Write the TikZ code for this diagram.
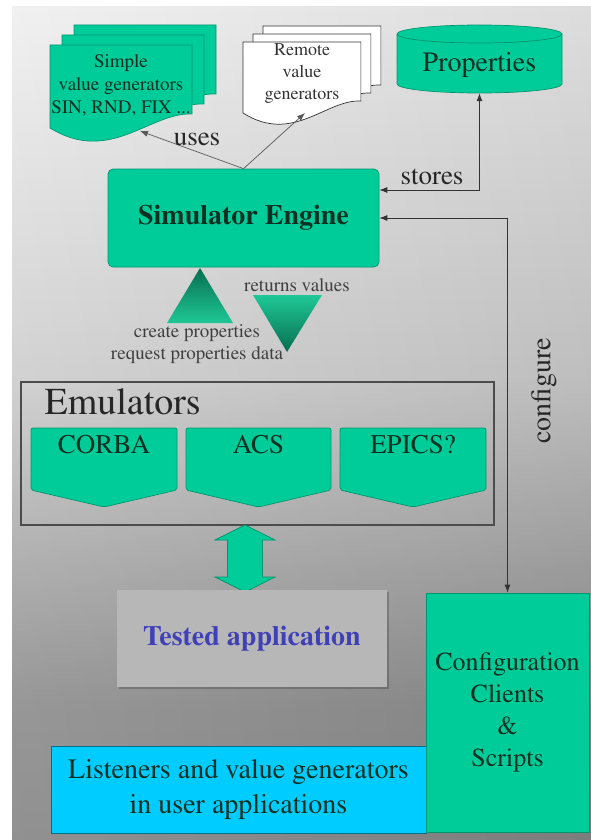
\documentclass[tikz,border=0pt]{standalone}
\usepackage[T1]{fontenc}
\usepackage{times}
\usetikzlibrary{arrows.meta,calc}
\definecolor{simgreen}{RGB}{0,204,153}
\definecolor{simgreendk}{RGB}{0,150,110}
\definecolor{simcyan}{RGB}{0,204,255}
\definecolor{cyandk}{RGB}{0,110,140}
\definecolor{testgray}{RGB}{183,183,183}
\definecolor{testblue}{RGB}{64,64,184}
\definecolor{txtdk}{RGB}{12,48,34}
\definecolor{bgA}{RGB}{240,240,240}
\definecolor{bgB}{RGB}{206,206,206}
\definecolor{bgC}{RGB}{170,170,170}
\definecolor{bgD}{RGB}{143,143,143}
\definecolor{bgE}{RGB}{136,136,136}
\definecolor{trdark}{RGB}{8,110,80}
\definecolor{trlight}{RGB}{30,200,150}
\newcommand\docpathA{(0,0) -- (142,0) -- (142,69) .. controls (100,67) and (60,120) .. (0,83) -- cycle}
\newcommand\emushape[2]{\filldraw[gfill, rounded corners=2pt] (#1,428) -- (#2,428) -- (#2,490) -- ({(#1+#2)/2},507) -- (#1,490) -- cycle;}
\begin{document}
\begin{tikzpicture}[x=1pt,y=-1pt,
  gfill/.style={fill=simgreen, draw=simgreendk, line width=0.7pt},
  conn/.style={draw=black!80, line width=0.8pt},
  tipA/.style={-{Latex[length=8pt,width=6pt]}},
  tipB/.style={{Latex[length=8pt,width=6pt]}-{Latex[length=8pt,width=6pt]}}
]
\useasboundingbox (0,0) rectangle (591,840);
\fill[white] (0,0) rectangle (591,840);
% background
\shade[top color=bgA, bottom color=bgB] (12,7) rectangle (591,382);
\shade[top color=bgB, bottom color=bgC] (12,380) rectangle (591,562);
\shade[top color=bgC, bottom color=bgD] (12,560) rectangle (591,702);
\shade[top color=bgD, bottom color=bgE] (12,700) rectangle (591,840);
\shade[left color=white, right color=black, opacity=0.08] (12,7) rectangle (591,840);

% simple value generators
\begin{scope}[shift={(74,25)}] \filldraw[gfill] \docpathA; \end{scope}
\begin{scope}[shift={(62,35)}] \filldraw[gfill] \docpathA; \end{scope}
\begin{scope}[shift={(50,45)}] \filldraw[gfill] \docpathA; \end{scope}
\node[text=txtdk, align=center, font=\fontsize{19}{23}\selectfont] (sg) at (121,85) {Simple\\value generators\\SIN, RND, FIX ...};
\coordinate (sgtip) at (140,131);

% remote value generators
\begin{scope}[shift={(263,26)}, xscale=0.83, yscale=0.855] \filldraw[fill=white, draw=black!80, line width=0.7pt] \docpathA; \end{scope}
\begin{scope}[shift={(253,34)}, xscale=0.83, yscale=0.855] \filldraw[fill=white, draw=black!80, line width=0.7pt] \docpathA; \end{scope}
\begin{scope}[shift={(243,42)}, xscale=0.83, yscale=0.855] \filldraw[fill=white, draw=black!80, line width=0.7pt] \docpathA; \end{scope}
\node[text=black!80, align=center, font=\fontsize{18}{22}\selectfont] (rg) at (302,74) {Remote\\value\\generators};
\coordinate (rgtip) at (305,113);

% properties cylinder
\filldraw[gfill] (397,34) -- (397,84) arc[start angle=180, end angle=360, x radius=82.5pt, y radius=9pt] -- (562,34) arc[start angle=0, end angle=180, x radius=82.5pt, y radius=9pt] -- cycle;
\draw[simgreendk, line width=0.7pt] (397,34) arc[start angle=180, end angle=360, x radius=82.5pt, y radius=9pt];
\node[minimum width=165pt, minimum height=56pt, inner sep=0pt, text=txtdk, font=\fontsize{28}{34}\selectfont] (prop) at (479.5,65) {Properties};

% simulator engine
\node[gfill, rounded corners=5pt, minimum width=271pt, minimum height=98pt, inner sep=0pt, text=txtdk, font=\bfseries\fontsize{28}{34}\selectfont] (engine) at (243.5,218) {Simulator Engine};

% uses
\draw[conn, draw=black!65, line width=0.7pt, tipA] (engine.north) -- (sgtip);
\draw[conn, draw=black!65, line width=0.7pt, tipA] (engine.north) -- (rgtip);
\node[text=black!85, font=\fontsize{27}{30}\selectfont] (uses) at (197,139) {uses};

% stores
\draw[conn, tipB] ([yshift=28pt]engine.east) -| (prop.south);
\node[text=black!85, font=\fontsize{27}{30}\selectfont] (stores) at (432,177) {stores};

% triangles
\shade[top color=trdark, bottom color=trlight] (200,268) -- (233,323) -- (167,323) -- cycle;
\shade[top color=trlight, bottom color=trdark] (253,295) -- (322,295) -- (287,352) -- cycle;
\node[text=black!75, font=\fontsize{19}{22}\selectfont] (retv) at (297,285) {returns values};
\node[text=black!75, align=center, font=\fontsize{19}{22}\selectfont] (crp) at (197,344) {create properties\\request properties data};

% emulators
\node[draw=black!70, line width=1.6pt, minimum width=473pt, minimum height=143pt, inner sep=0pt] (emu) at (257.5,453.5) {};
\node[anchor=base west, text=black!85, font=\fontsize{38}{44}\selectfont] (emut) at (41,414) {Emulators};
\emushape{31}{177}
\emushape{186}{331}
\emushape{340}{486}
\node[text=txtdk, font=\fontsize{27}{30}\selectfont] (corba) at (104,444) {CORBA};
\node[text=txtdk, font=\fontsize{27}{30}\selectfont] (acs) at (258.5,444) {ACS};
\node[text=txtdk, font=\fontsize{27}{30}\selectfont] (epics) at (413,444) {EPICS?};

% double arrow
\filldraw[gfill] (245,525) -- (275,540) -- (262.5,540) -- (262.5,577) -- (275,577) -- (245,592) -- (215,577) -- (227.5,577) -- (227.5,540) -- (215,540) -- cycle;

% tested application
\fill[black, opacity=0.2] (119,592) rectangle (389,689);
\node[fill=testgray, minimum width=270pt, minimum height=97pt, inner sep=0pt, text=testblue, font=\bfseries\fontsize{28}{34}\selectfont] (tested) at (252,638.5) {Tested application};

% listeners
\node[fill=simcyan, draw=cyandk, line width=0.8pt, minimum width=375pt, minimum height=87pt, inner sep=0pt, align=center, text=txtdk, font=\fontsize{28}{35}\selectfont] (listen) at (238.5,789.5) {Listeners and value generators\\in user applications};

% configuration
\node[gfill, minimum width=163pt, minimum height=239pt, inner sep=0pt, align=center, text=txtdk, font=\fontsize{26}{32}\selectfont] (config) at (507.5,712.5) {Configuration\\Clients\\\&\\Scripts};

% configure
\draw[conn, tipB] (engine.east) -| (config.north);
\node[rotate=90, text=black!85, font=\fontsize{28}{32}\selectfont] (cfg) at (544,391) {configure};
\end{tikzpicture}
\end{document}
